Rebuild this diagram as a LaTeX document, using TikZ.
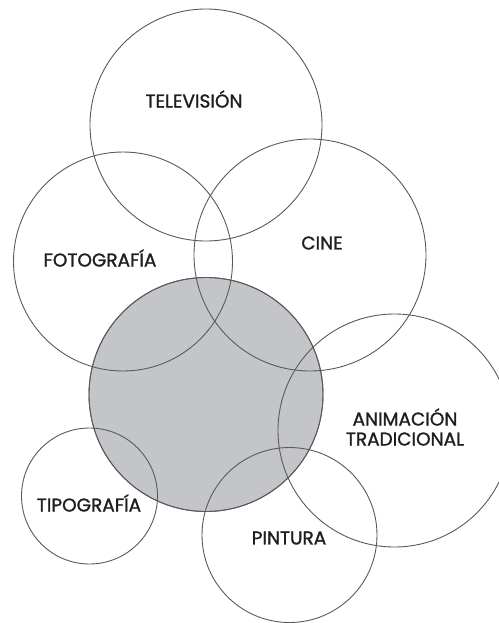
\documentclass[tikz,border=0pt]{standalone}
\usepackage{fontspec}
\newfontfamily\labelfont[FakeBold=1.3]{Poppins}
\definecolor{ringline}{HTML}{5A5A5C}
\definecolor{corefill}{HTML}{C4C5C8}
\definecolor{labeltext}{HTML}{1E1E1E}
\begin{document}
\begin{tikzpicture}[x=1pt,y=-1pt,
  ring/.style={circle, draw=ringline, line width=0.9pt, inner sep=0pt},
  lab/.style={font=\labelfont\fontsize{18.5}{20}\selectfont, text=labeltext, align=center, inner sep=0pt}]
\useasboundingbox[fill=white] (0,0) rectangle (498,623);
% circles
\node[ring, fill=corefill, minimum size=234pt] (core) at (206,394.5) {};
\node[ring, minimum size=232pt] (tv) at (206,125) {};
\node[ring, minimum size=219pt] (foto) at (123,261.5) {};
\node[ring, minimum size=232pt] (cine) at (310,255) {};
\node[ring, minimum size=233pt] (anim) at (394.5,430.5) {};
\node[ring, minimum size=136pt] (tipo) at (89.5,496) {};
\node[ring, minimum size=175pt] (pint) at (289.5,535) {};
\node[ring, minimum size=234pt] at (core) {};
% labels
\node[lab] (tvlab) at (194,99) {TELEVISIÓN};
\node[lab] (fotolab) at (100,258) {FOTOGRAFÍA};
\node[lab] (cinelab) at (322,243) {CINE};
\node[lab] (animlab) at (405,427) {ANIMACIÓN\\TRADICIONAL};
\node[lab] (tipolab) at (89,503) {TIPOGRAFÍA};
\node[lab] (pintlab) at (289,538) {PINTURA};
\end{tikzpicture}
\end{document}
